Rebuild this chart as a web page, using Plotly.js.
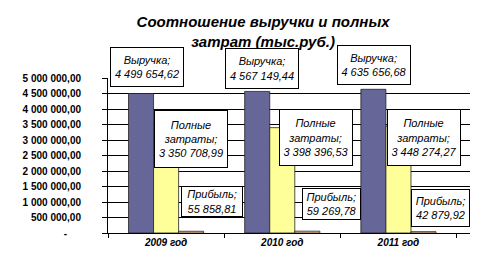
<!DOCTYPE html>
<html>
<head>
<meta charset="utf-8">
<script src="https://cdn.plot.ly/plotly-3.0.1.min.js"></script>
<style>body{margin:0;padding:0;background:#fff;}#chart{width:489px;height:266px;}</style>
</head>
<body>
<div id="chart"></div>
<script>
// ---- data ----
const years = ["2009 год", "2010 год", "2011 год"];
const seriesNames = ["Выручка", "Полные затраты", "Прибыль"];
const revenue = [4499654.62, 4567149.44, 4635656.68];
const fullCosts = [3350708.99, 3398396.53, 3448274.27];
const profit = [55858.81, 59269.78, 42879.92];
const tickVals = [0, 500000, 1000000, 1500000, 2000000, 2500000, 3000000, 3500000, 4000000, 4500000, 5000000];
const tickText = ["-\u2007\u2007\u2008", "500 000,00", "1 000 000,00", "1 500 000,00", "2 000 000,00", "2 500 000,00", "3 000 000,00", "3 500 000,00", "4 000 000,00", "4 500 000,00", "5 000 000,00"];
const labelHead = ["Выручка;", "Полные<br>затраты;", "Прибыль;"];

// ---- styles ----
const colors = ["#666699", "#FFFF99", "#FFCC99"];
const bargap = 0.353;
const barW = (1 - bargap) / 3;
// label box pixel offsets (from bar top-centre) and sizes
const shiftX = [[5.5, 5, 1], [24.5, 33.5, 26], [20.5, 24.5, 17]];
const shiftY = [[26.5, 23.4, 23.8], [-9.4, -10.3, -10.9], [29.8, 27.2, 23.2]];
const boxW = [[70, 70, 70], [70, 70, 70], [58, 55, 55]];
const boxH = [[36, 37, 36], [54, 53, 53], [27, 28, 34]];

function fmt(v) {
  const parts = v.toFixed(2).split(".");
  const int = parts[0].replace(/\B(?=(\d{3})+(?!\d))/g, " ");
  return int + "," + parts[1];
}

const values = [revenue, fullCosts, profit];
const traces = values.map((vals, s) => ({
  type: "bar",
  name: seriesNames[s],
  x: years,
  y: vals,
  marker: { color: colors[s], line: { color: "#222", width: 0.8 } },
  hoverinfo: "x+y+name"
}));

const annotations = [];
values.forEach((vals, s) => {
  vals.forEach((v, i) => {
    annotations.push({
      x: i + (s - 1) * barW,
      y: v,
      xref: "x", yref: "y",
      text: labelHead[s] + "<br>" + fmt(v),
      showarrow: false,
      xshift: shiftX[s][i],
      yshift: shiftY[s][i],
      xanchor: "center", yanchor: "middle",
      width: boxW[s][i], height: boxH[s][i],
      align: "center", valign: "middle",
      bgcolor: "#ffffff",
      bordercolor: "#000000",
      borderwidth: 1,
      borderpad: 1,
      font: { family: "Liberation Sans, Arial, sans-serif", size: 11, style: "italic", color: "#000" }
    });
  });
});

const layout = {
  width: 489, height: 266,
  margin: { l: 108, r: 19, t: 78, b: 33, pad: 0 },
  paper_bgcolor: "#ffffff",
  plot_bgcolor: "#ffffff",
  showlegend: false,
  barmode: "group",
  bargap: bargap,
  bargroupgap: 0,
  title: {
    text: "Соотношение выручки и полных<br>затрат (тыс.руб.)",
    font: { family: "Liberation Sans, Arial, sans-serif", size: 15, weight: "bold", style: "italic", color: "#000" },
    xref: "container", x: 0.538, xanchor: "center",
    yref: "container", y: 0.897, yanchor: "top"
  },
  xaxis: {
    type: "category",
    tickson: "boundaries",
    ticks: "outside", ticklen: 4, tickcolor: "#000",
    showline: true, linecolor: "#000", linewidth: 1,
    showgrid: false,
    tickfont: { family: "Liberation Sans, Arial, sans-serif", size: 10, weight: "bold", style: "italic", color: "#000" },
    fixedrange: true
  },
  yaxis: {
    range: [0, 5000000],
    tickvals: tickVals, ticktext: tickText,
    ticks: "outside", ticklen: 5, tickcolor: "#000",
    ticklabelstandoff: 19,
    showline: true, linecolor: "#000", linewidth: 1,
    showgrid: true, gridcolor: "#000", gridwidth: 1,
    zeroline: false,
    tickfont: { family: "Liberation Sans, Arial, sans-serif", size: 10, weight: "bold", color: "#000" },
    fixedrange: true
  },
  annotations: annotations
};

Plotly.newPlot("chart", traces, layout, { staticPlot: true, displayModeBar: false });
</script>
</body>
</html>
